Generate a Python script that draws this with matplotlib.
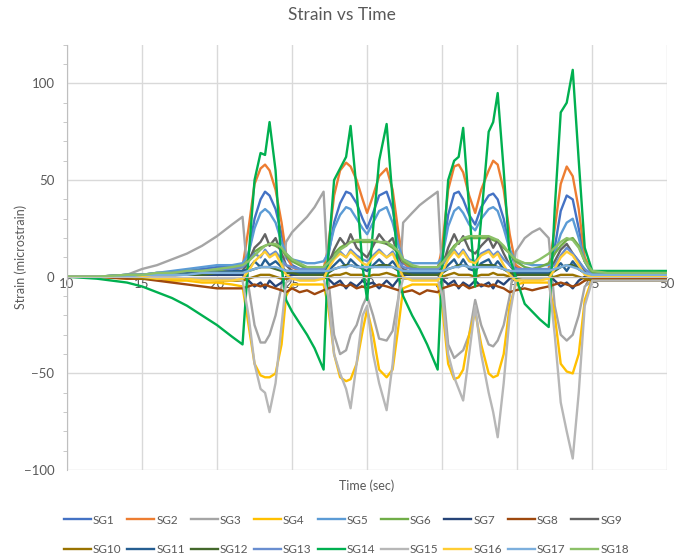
import matplotlib.pyplot as plt
from matplotlib.ticker import MultipleLocator

# sample times (sec) shared by every strain gauge trace
time_s = [10, 12, 14, 15, 16, 17, 18, 19, 20, 21,
          21.7, 22.1, 22.5, 22.9, 23.2, 23.5, 23.9, 24.3, 24.6, 25.0,
          25.5, 26.0, 26.5, 27.1, 27.4, 27.8, 28.2, 28.6, 28.9, 29.3,
          29.7, 30.0, 30.4, 30.8, 31.3, 31.7, 32.1, 32.4, 33.0, 33.5,
          34.0, 34.7, 35.0, 35.4, 35.8, 36.1, 36.4, 36.8, 37.2, 37.6,
          38.1, 38.4, 38.7, 39.1, 39.5, 39.9, 40.5, 41.0, 41.5, 42.1,
          42.5, 42.9, 43.3, 43.7, 44.1, 44.5, 45.0, 46, 48, 50]

# strain readings (microstrain)
sg1 = [0, 0, 1, 1, 2, 2, 3, 4, 5, 5,
       6, 12, 30, 40, 44, 42, 35, 22, 10, 6,
       4, 3, 3, 4, 10, 28, 38, 44, 43, 38,
       30, 25, 33, 42, 44, 35, 18, 7, 4, 3,
       3, 3, 10, 32, 43, 44, 40, 32, 27, 36,
       42, 43, 40, 30, 14, 5, 3, 3, 3, 3,
       15, 34, 42, 40, 25, 8, 1, 0, 0, 0]
sg2 = [0, 0, 0, 1, 1, 1, 1, 2, 2, 3,
       5, 25, 48, 56, 58, 55, 45, 28, 12, 5,
       3, 3, 3, 4, 15, 42, 55, 59, 57, 50,
       40, 33, 42, 52, 56, 45, 22, 8, 3, 3,
       3, 4, 15, 45, 57, 58, 54, 42, 33, 45,
       55, 60, 58, 45, 22, 6, 3, 3, 3, 4,
       25, 48, 57, 52, 35, 10, 2, 1, 1, 1]
sg3 = [0, 0, 1, 4, 6, 9, 12, 16, 21, 27,
       31, -5, -25, -34, -34, -30, -20, -5, 18, 23,
       27, 31, 36, 44, 0, -30, -40, -38, -30, -25,
       -15, -10, -20, -32, -33, -28, -10, 28, 33, 37,
       40, 44, 0, -35, -42, -40, -38, -30, -12, -25,
       -35, -36, -33, -25, -10, 13, 20, 23, 25, 20,
       -15, -30, -33, -30, -20, -5, -2, -2, -2, -2]
sg4 = [0, 0, -1, -1, -1, -2, -2, -3, -3, -4,
       -5, -25, -45, -51, -52, -52, -50, -35, -10, -4,
       -4, -4, -4, -4, -15, -40, -52, -54, -53, -45,
       -28, -17, -30, -48, -52, -48, -25, -6, -4, -4,
       -4, -4, -15, -45, -53, -52, -48, -30, -18, -35,
       -50, -52, -51, -40, -15, -4, -3, -3, -3, -3,
       -20, -45, -49, -50, -40, -12, -1, 0, 0, 0]
sg5 = [0, 0, 1, 1, 2, 3, 4, 5, 6, 6,
       7, 12, 25, 33, 35, 33, 28, 18, 12, 9,
       8, 7, 7, 8, 12, 25, 32, 36, 35, 30,
       25, 22, 28, 34, 36, 28, 16, 9, 7, 7,
       7, 7, 10, 26, 34, 36, 33, 27, 24, 30,
       35, 36, 34, 25, 14, 8, 7, 6, 6, 6,
       12, 22, 28, 30, 20, 8, 1, 0, 0, 0]
sg6 = [0, 0, 1, 1, 1, 2, 2, 3, 3, 4,
       5, 9, 13, 15, 16, 17, 16, 14, 11, 8,
       6, 4, 4, 5, 8, 12, 15, 17, 18, 18,
       18, 18, 18, 18, 17, 15, 12, 8, 5, 4,
       4, 5, 8, 12, 16, 18, 19, 20, 20, 20,
       20, 19, 18, 15, 12, 8, 5, 4, 5, 7,
       12, 16, 19, 20, 16, 8, 2, 1, 1, 1]
sg7 = [0, 0, 0, 0, 0, 1, 1, 1, 1, 1,
       1, -2, -5, -3, -6, -2, -5, -3, 0, 1,
       1, 1, 1, 1, -1, -4, -2, -6, -3, -5,
       -2, -4, -3, -6, -2, -5, -1, 1, 1, 1,
       1, 1, -1, -4, -2, -6, -3, -5, -2, -5,
       -3, -6, -2, -4, -1, 1, 1, 1, 1, 1,
       -2, -5, -3, -6, -2, 0, -1, -1, -1, -1]
sg8 = [0, 0, -1, -1, -2, -3, -4, -5, -6, -6,
       -6, -5, -4, -5, -4, -5, -6, -7, -8, -6,
       -8, -7, -9, -7, -6, -5, -4, -5, -4, -6,
       -5, -6, -5, -4, -5, -6, -7, -8, -7, -9,
       -7, -8, -6, -5, -4, -5, -4, -6, -5, -4,
       -5, -4, -5, -6, -8, -7, -6, -7, -6, -5,
       -4, -3, -4, -5, -4, -2, -1, -1, -1, -1]
sg9 = [0, 0, 0, 1, 1, 1, 2, 2, 2, 3,
       3, 8, 15, 18, 22, 16, 20, 12, 6, 3,
       2, 2, 2, 2, 6, 14, 20, 16, 22, 15,
       12, 10, 16, 22, 17, 20, 10, 4, 2, 2,
       2, 2, 5, 15, 22, 17, 21, 14, 12, 16,
       20, 15, 19, 12, 6, 2, 2, 2, 2, 2,
       8, 14, 17, 12, 8, 3, -2, -2, -2, -2]
sg10 = [0, 0, 0, -1, -1, -1, -1, -1, -2, -2,
        -2, -1, 0, 1, 1, 1, 0, -1, -1, -1,
        -1, -1, -1, -1, 0, 1, 1, 2, 1, 1,
        1, 0, 1, 1, 2, 1, 0, -1, -1, -1,
        -1, -1, 0, 1, 2, 1, 1, 1, 0, 1,
        1, 2, 1, 1, 0, -1, -1, -1, -1, -1,
        0, 1, 1, 1, 0, -1, -2, -2, -2, -2]
sg11 = [0, 0, 0, 1, 1, 1, 2, 2, 2, 3,
        3, 4, 8, 5, 9, 6, 8, 5, 3, 3,
        2, 2, 2, 2, 3, 6, 9, 5, 9, 6,
        4, 3, 6, 9, 5, 8, 4, 2, 2, 2,
        2, 2, 3, 6, 9, 5, 9, 4, 3, 7,
        9, 5, 8, 4, 3, 2, 2, 2, 2, 2,
        4, 7, 3, 8, 4, 2, 0, 0, 0, 0]
sg12 = [0, 0, 0, 0, 1, 1, 1, 1, 2, 2,
        2, 3, 4, 5, 5, 5, 4, 3, 2, 2,
        1, 1, 1, 1, 2, 4, 5, 6, 6, 5,
        5, 5, 5, 6, 6, 5, 3, 2, 1, 1,
        1, 1, 2, 4, 5, 6, 6, 5, 5, 6,
        6, 6, 5, 4, 2, 1, 1, 1, 1, 1,
        3, 5, 6, 6, 4, 2, 0, 0, 0, 0]
sg13 = [0, 0, 1, 1, 2, 2, 3, 3, 4, 4,
        5, 8, 12, 10, 14, 11, 13, 9, 6, 5,
        4, 4, 4, 4, 6, 10, 13, 10, 14, 11,
        9, 8, 11, 14, 10, 13, 8, 5, 4, 4,
        4, 4, 6, 10, 14, 11, 14, 9, 8, 12,
        14, 11, 13, 9, 6, 4, 4, 4, 4, 4,
        6, 11, 15, 12, 8, 4, 1, 1, 1, 1]
sg14 = [0, -1, -3, -5, -8, -11, -15, -20, -25, -31,
        -35, 10, 50, 64, 63, 80, 55, 5, -12, -18,
        -24, -30, -37, -48, 10, 50, 56, 62, 78, 45,
        5, -12, 25, 60, 79, 40, 0, -10, -20, -27,
        -35, -48, 5, 50, 60, 62, 77, 35, -5, 30,
        75, 80, 95, 55, 10, 0, -14, -18, -22, -26,
        35, 85, 90, 107, 60, 15, 3, 3, 3, 3]
sg15 = [0, 0, 0, 0, 0, 0, -1, -1, -1, -1,
        -2, -20, -45, -58, -60, -70, -55, -25, -3, -1,
        -1, -1, -1, -1, -10, -40, -50, -58, -68, -45,
        -20, -15, -40, -55, -69, -45, -10, -1, -1, -1,
        -1, -1, -10, -40, -52, -58, -64, -40, -15, -40,
        -60, -70, -83, -55, -20, -2, -1, -1, -1, -1,
        -30, -65, -80, -94, -60, -15, -2, -2, -2, -2]
sg16 = [0, 0, 0, 0, -1, -1, -1, -2, -2, -2,
        -1, 3, 8, 11, 13, 10, 12, 6, 1, -1,
        -2, -2, -2, -1, 4, 9, 12, 10, 13, 10,
        7, 6, 10, 13, 10, 12, 5, 0, -2, -2,
        -2, -2, 2, 9, 13, 10, 13, 8, 7, 11,
        13, 10, 12, 6, 1, -2, -2, -2, -2, -1,
        4, 10, 13, 11, 6, 1, 0, 0, 0, 0]
sg17 = [0, 0, 0, 1, 1, 1, 1, 2, 2, 2,
        2, 3, 4, 5, 5, 5, 5, 4, 3, 3,
        3, 3, 3, 3, 3, 4, 5, 5, 6, 5,
        5, 5, 5, 5, 5, 5, 4, 3, 3, 3,
        3, 3, 3, 4, 5, 5, 6, 5, 5, 5,
        5, 5, 5, 4, 3, 3, 3, 3, 3, 3,
        4, 5, 6, 5, 4, 2, 1, 1, 1, 1]
sg18 = [0, 0, 1, 1, 2, 2, 3, 3, 4, 5,
        6, 8, 11, 14, 16, 17, 17, 15, 12, 9,
        7, 5, 5, 5, 7, 10, 14, 16, 18, 19,
        19, 19, 19, 18, 18, 16, 13, 9, 6, 5,
        5, 5, 7, 11, 15, 18, 20, 21, 21, 21,
        21, 20, 19, 16, 12, 9, 7, 7, 9, 12,
        15, 18, 20, 19, 15, 8, 3, 2, 2, 2]

series = [sg1, sg2, sg3, sg4, sg5, sg6, sg7, sg8, sg9,
          sg10, sg11, sg12, sg13, sg14, sg15, sg16, sg17, sg18]
labels = [f"SG{i}" for i in range(1, 19)]
colors = ["#4472C4", "#ED7D31", "#A5A5A5", "#FFC000", "#5B9BD5", "#70AD47",
          "#264478", "#9E480E", "#636363", "#997300", "#255E91", "#43682B",
          "#698ED0", "#00B050", "#B7B7B7", "#FFCD33", "#7CAFDD", "#8CC168"]

TEXT = "#595959"
GRID = "#D9D9D9"

plt.rcParams["font.family"] = ["Lato", "DejaVu Sans"]

fig = plt.figure(figsize=(6.83, 5.59), dpi=100)
ax = fig.add_axes([0.098, 0.159, 0.879, 0.761])

lines = []
for values, label, color in zip(series, labels, colors):
    (line,) = ax.plot(time_s, values, color=color, lw=1.7, label=label,
                      solid_joinstyle="round")
    lines.append(line)

ax.set_xlim(10, 50)
ax.set_ylim(-100, 120)
ax.xaxis.set_major_locator(MultipleLocator(5))
ax.yaxis.set_major_locator(MultipleLocator(50))
ax.yaxis.set_minor_locator(MultipleLocator(10))
ax.grid(True, which="major", color=GRID, lw=1)
ax.set_axisbelow(True)

for side in ("top", "right"):
    ax.spines[side].set_visible(False)
ax.spines["left"].set_color("#BFBFBF")
ax.spines["bottom"].set_position(("data", 0))
ax.spines["bottom"].set_color("#BFBFBF")

ax.tick_params(axis="x", length=0, pad=1, labelsize=9.5, labelcolor=TEXT)
ax.tick_params(axis="y", which="major", length=0, pad=9, labelsize=9.5,
               labelcolor=TEXT)
ax.tick_params(axis="y", which="minor", length=3, color="#BFBFBF")

ax.set_ylabel("Strain (microstrain)", fontsize=9, color=TEXT, labelpad=-2)
ax.set_xlabel("Time (sec)", fontsize=9, color=TEXT)
ax.xaxis.set_label_coords(0.5, -0.022)
fig.suptitle("Strain vs Time", fontsize=12.5, color=TEXT, y=0.988)

# legend reads row by row: SG1..SG9 then SG10..SG18
order = [i + r * 9 for i in range(9) for r in range(2)]
fig.legend([lines[i] for i in order], [labels[i] for i in order],
           loc="center", bbox_to_anchor=(0.507, 0.043), ncol=9,
           frameon=False, fontsize=8.5, handlelength=2.3, handletextpad=0.15,
           columnspacing=0.5, labelcolor=TEXT, labelspacing=1.6)

fig.savefig("out.png", dpi=100)
